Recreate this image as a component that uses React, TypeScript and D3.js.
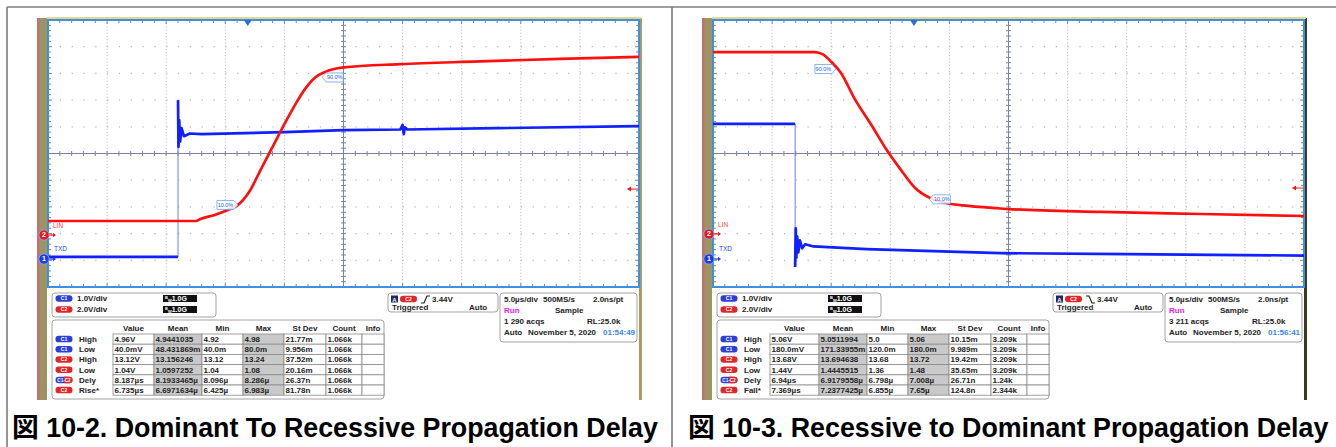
import React from "react";
import * as d3 from "d3";

const W = 1336;
const H = 447;

// ---------- data (time in µs, values in volts) ----------
const T_MAX = 50; // 10 div × 5.0 µs/div
const C1_VOLTS_PER_DIV = 1.0;
const C2_VOLTS_PER_DIV = 2.0;
const TRIG_LEVEL = 3.44;

const leftTxdLow: [number, number][] = [[0, 0.08], [11.0, 0.08]];
const leftTxdHigh: [number, number][] = [
  [11.0, 5.95], [11.04, 4.2], [11.1, 5.2], [11.18, 4.4], [11.3, 4.9], [11.5, 4.6],
  [12, 4.7], [13, 4.68], [20, 4.75], [25, 4.83], [29.8, 4.85], [30.0, 5.02],
  [30.1, 4.68], [30.2, 4.93], [30.4, 4.85], [38, 4.9], [50, 4.98],
];
const leftLin: [number, number][] = [
  [0, 1.05], [12.5, 1.05], [12.9, 1.2], [14.1, 1.5], [15.2, 1.87], [16.0, 2.2],
  [17.0, 3.2], [18.0, 4.9], [19.0, 6.6], [20.0, 8.3], [21.0, 9.9], [21.8, 11.0],
  [22.6, 11.8], [23.4, 12.2], [24.3, 12.45], [25, 12.55], [29.8, 12.8],
  [36.5, 13.0], [43.3, 13.2], [50, 13.35],
];

const rightTxdHigh: [number, number][] = [[0, 5.06], [6.95, 5.06]];
const rightTxdLow: [number, number][] = [
  [6.95, -0.3], [7.0, 1.15], [7.05, 0.05], [7.12, 0.85], [7.22, 0.25], [7.35, 0.7],
  [7.55, 0.4], [7.8, 0.55], [8.5, 0.47], [13, 0.37], [24.3, 0.22], [35, 0.18], [50, 0.13],
];
const rightLin: [number, number][] = [
  [0, 13.63], [8.6, 13.63], [9.3, 13.45], [10.0, 12.9], [10.8, 12.1], [12.0, 10.1],
  [13.4, 8.16], [14.7, 6.29], [15.9, 4.8], [17.1, 3.45], [18.2, 2.77], [19.7, 2.32],
  [21.6, 2.1], [25, 1.87], [32.8, 1.65], [41.3, 1.5], [50, 1.35],
];

// percent annotations: [t, volts, label, side]
const leftMarks: [number, number, string, "left" | "right"][] = [
  [16.07, 2.25, "10.0%", "left"],
  [23.2, 11.8, "90.0%", "right"],
];
const rightMarks: [number, number, string, "left" | "right"][] = [
  [10.4, 12.36, "90.0%", "left"],
  [18.3, 2.6, "10.0%", "right"],
];

const tableHeaders = ["Value", "Mean", "Min", "Max", "St Dev", "Count", "Info"];
const rowChannels = ["C1", "C1", "C2", "C2", "C1-C2", "C2"];
const leftRowNames = ["High", "Low", "High", "Low", "Dely", "Rise*"];
const rightRowNames = ["High", "Low", "High", "Low", "Dely", "Fall*"];
const leftValues = [
  ["4.96V", "4.9441035", "4.92", "4.98", "21.77m", "1.066k"],
  ["40.0mV", "48.431869m", "40.0m", "80.0m", "9.956m", "1.066k"],
  ["13.12V", "13.156246", "13.12", "13.24", "37.52m", "1.066k"],
  ["1.04V", "1.0597252", "1.04", "1.08", "20.16m", "1.066k"],
  ["8.187µs", "8.1933465µ", "8.096µ", "8.286µ", "26.37n", "1.066k"],
  ["6.735µs", "6.6971634µ", "6.425µ", "6.983µ", "81.78n", "1.066k"],
];
const rightValues = [
  ["5.06V", "5.0511994", "5.0", "5.06", "10.15m", "3.209k"],
  ["180.0mV", "171.33955m", "120.0m", "180.0m", "9.989m", "3.209k"],
  ["13.68V", "13.694638", "13.68", "13.72", "19.42m", "3.209k"],
  ["1.44V", "1.4445515", "1.36", "1.48", "35.65m", "3.209k"],
  ["6.94µs", "6.9179558µ", "6.798µ", "7.008µ", "26.71n", "1.24k"],
  ["7.369µs", "7.2377425µ", "6.855µ", "7.65µ", "124.8n", "2.344k"],
];
const leftTimebase = ["5.0µs/div", "500MS/s", "2.0ns/pt", "Run", "Sample", "1 290 acqs", "RL:25.0k", "Auto", "November 5, 2020", "01:54:49"];
const rightTimebase = ["5.0µs/div", "500MS/s", "2.0ns/pt", "Run", "Sample", "3 211 acqs", "RL:25.0k", "Auto", "November 5, 2020", "01:56:41"];
const channelScales = ["1.0V/div", "2.0V/div"];
const leftCaption = "図 10-2. Dominant To Recessive Propagation Delay";
const rightCaption = "図 10-3. Recessive to Dominant Propagation Delay";

// ---------- layout ----------
const GRID_TOP = 20;
const GRID_BOTTOM = 287;
const GRID_W = 591;
const DIVS = 10;
const FONT = "'Liberation Sans', Arial, 'Noto Sans CJK JP', sans-serif";
const RED = "#ff1010";
const BLUE = "#1020ff";
const GRIDC = "#7a82a6";

type ScopeProps = {
  x0: number;
  c1Gnd: number;
  c2Gnd: number;
  txdA: [number, number][];
  txdB: [number, number][];
  lin: [number, number][];
  marks: [number, number, string, "left" | "right"][];
  rowNames: string[];
  values: string[][];
  timebase: string[];
  valueColStart: number;
  rising: boolean;
  trigT: number;
  darkEdge: boolean;
};

function Pill({ x, y, ch }: { x: number; y: number; ch: string }) {
  const w = 17, h = 6.5;
  if (ch === "C1-C2") {
    return (
      <g>
        <rect x={x} y={y - h / 2} width={w} height={h} rx={3.2} fill="#2b3fd6" />
        <rect x={x + w / 2} y={y - h / 2} width={w / 2} height={h} rx={3.2} fill="#e02626" />
        <rect x={x + w / 2} y={y - h / 2} width={3} height={h} fill="#e02626" />
        <text x={x + w / 2} y={y + 1.8} fontSize={4.6} fill="#fff" textAnchor="middle" fontFamily={FONT} fontWeight="bold">C1-C2</text>
      </g>
    );
  }
  const fill = ch === "C1" ? "#2b3fd6" : "#e02626";
  return (
    <g>
      <rect x={x} y={y - h / 2} width={w} height={h} rx={3.2} fill={fill} />
      <text x={x + w / 2} y={y + 1.8} fontSize={5} fill="#fff" textAnchor="middle" fontFamily={FONT} fontWeight="bold">{ch}</text>
    </g>
  );
}

function Scope(p: ScopeProps) {
  const o = p.x0 - 48;
  const x1 = p.x0 + GRID_W;
  const xScale = d3.scaleLinear().domain([0, T_MAX]).range([p.x0, x1]);
  const divH = (GRID_BOTTOM - GRID_TOP) / DIVS;
  const divW = GRID_W / DIVS;
  const y1 = d3.scaleLinear().domain([0, C1_VOLTS_PER_DIV * DIVS]).range([p.c1Gnd, p.c1Gnd - divH * DIVS]);
  const y2 = d3.scaleLinear().domain([0, C2_VOLTS_PER_DIV * DIVS]).range([p.c2Gnd, p.c2Gnd - divH * DIVS]);
  const line1 = d3.line<[number, number]>().x((d) => xScale(d[0])).y((d) => y1(d[1]));
  const line2 = d3
    .line<[number, number]>()
    .x((d) => xScale(d[0]))
    .y((d) => y2(d[1]))
    .curve(d3.curveMonotoneX);

  const cx = p.x0 + GRID_W / 2;
  const cy = (GRID_TOP + GRID_BOTTOM) / 2;
  const minorX = d3.range(0, DIVS * 5 + 1).map((i) => p.x0 + (i * divW) / 5);
  const minorY = d3.range(0, DIVS * 5 + 1).map((i) => GRID_TOP + (i * divH) / 5);

  const stepT = p.txdA[p.txdA.length - 1][0];
  const stepFrom = p.txdA[p.txdA.length - 1][1];
  const stepTo = p.txdB[0][1];

  const trigY = y2(TRIG_LEVEL);
  const trigX = xScale(p.trigT);

  const colStarts = [p.valueColStart, 154, 202, 243, 284, 326, 362, 384].map((v, i) => (i === 0 ? v : v + o));
  const rowTop = 334;
  const rowH = 10.2;

  return (
    <g>
      <rect x={37 + o} y={18} width={10} height={382} fill="#9c9562" />
      <rect x={37 + o} y={18} width={2.5} height={382} fill="#c9687a" opacity={0.8} />
      <rect x={639 + o} y={18} width={3} height={382} fill={p.darkEdge ? "#3c3a22" : "#a49c66"} />
      <rect x={47 + o} y={17} width={594} height={2} fill="#e2d88c" />

      {d3.range(1, DIVS).filter((i) => i !== 5).map((i) => (
        <line key={"gv" + i} x1={p.x0 + i * divW} x2={p.x0 + i * divW} y1={GRID_TOP} y2={GRID_BOTTOM}
          stroke="#b4b6c4" strokeWidth={1} strokeDasharray="1,2.2" />
      ))}
      {d3.range(1, DIVS).filter((i) => i !== 5).map((i) => (
        <line key={"gh" + i} x1={p.x0} x2={x1} y1={GRID_TOP + i * divH} y2={GRID_TOP + i * divH}
          stroke="#b4b6c4" strokeWidth={1.2} strokeDasharray={`1.2,${divW / 5 - 1.2}`} />
      ))}
      <line x1={cx} x2={cx} y1={GRID_TOP} y2={GRID_BOTTOM} stroke={GRIDC} strokeWidth={1} />
      <line x1={p.x0} x2={x1} y1={cy} y2={cy} stroke={GRIDC} strokeWidth={1} />
      {minorX.map((x, i) => (
        <g key={"tx" + i}>
          <line x1={x} x2={x} y1={cy - 2.5} y2={cy + 2.5} stroke={GRIDC} strokeWidth={1} />
          <line x1={x} x2={x} y1={GRID_TOP} y2={GRID_TOP + (i % 5 === 0 ? 4 : 3)} stroke={GRIDC} strokeWidth={1} />
          <line x1={x} x2={x} y1={GRID_BOTTOM} y2={GRID_BOTTOM - (i % 5 === 0 ? 4 : 3)} stroke={GRIDC} strokeWidth={1} />
        </g>
      ))}
      {minorY.map((y, i) => (
        <g key={"ty" + i}>
          <line x1={cx - 2.5} x2={cx + 2.5} y1={y} y2={y} stroke={GRIDC} strokeWidth={1} />
          <line x1={p.x0} x2={p.x0 + (i % 5 === 0 ? 4 : 3)} y1={y} y2={y} stroke={GRIDC} strokeWidth={1} />
          <line x1={x1} x2={x1 - (i % 5 === 0 ? 4 : 3)} y1={y} y2={y} stroke={GRIDC} strokeWidth={1} />
        </g>
      ))}
      <rect x={p.x0} y={GRID_TOP} width={GRID_W} height={GRID_BOTTOM - GRID_TOP} fill="none" stroke="#3f8fe2" strokeWidth={2} />

      <path d={`M${trigX - 4},${GRID_TOP} L${trigX + 4},${GRID_TOP} L${trigX},${GRID_TOP + 6} Z`} fill="#2a6fe0" />

      <line x1={xScale(stepT)} x2={xScale(stepT)} y1={y1(stepFrom)} y2={y1(stepTo)} stroke="#6f7cff" strokeWidth={1} />
      <path d={line1(p.txdA) || ""} fill="none" stroke={BLUE} strokeWidth={2.7} strokeLinejoin="round" />
      <path d={line1(p.txdB) || ""} fill="none" stroke={BLUE} strokeWidth={2.7} strokeLinejoin="round" />
      <path d={line1(p.txdB.slice(0, 8)) || ""} fill="none" stroke={BLUE} strokeWidth={1} />
      <path d={line2(p.lin) || ""} fill="none" stroke={RED} strokeWidth={2.7} strokeLinejoin="round" />

      {p.marks.map(([t, v, label, side], i) => {
        const ax = xScale(t);
        const ay = y2(v);
        const bw = 21;
        const bh = 9;
        const d =
          side === "left"
            ? `M${ax},${ay} L${ax - 4},${ay - bh / 2} L${ax - bw},${ay - bh / 2} L${ax - bw},${ay + bh / 2} L${ax - 4},${ay + bh / 2} Z`
            : `M${ax},${ay} L${ax + 4},${ay - bh / 2} L${ax + bw},${ay - bh / 2} L${ax + bw},${ay + bh / 2} L${ax + 4},${ay + bh / 2} Z`;
        const tx = side === "left" ? ax - bw / 2 - 2 : ax + bw / 2 + 2;
        return (
          <g key={"m" + i}>
            <path d={d} fill="#ffffff" fillOpacity={0.85} stroke="#6aa0f0" strokeWidth={0.8} />
            <text x={tx} y={ay + 2} fontSize={5.5} fill="#2a64e0" textAnchor="middle" fontFamily={FONT}>{label}</text>
          </g>
        );
      })}

      <line x1={x1 - 10} x2={x1 - 1} y1={trigY} y2={trigY} stroke={RED} strokeWidth={1} />
      <path d={`M${x1 - 12},${trigY} L${x1 - 8},${trigY - 2.5} L${x1 - 8},${trigY + 2.5} Z`} fill={RED} />

      <text x={p.x0 + 5} y={p.c2Gnd - 7} fontSize={6.5} fill="#ff3a3a" fontFamily={FONT}>LIN</text>
      <text x={p.x0 + 6} y={p.c1Gnd - 8} fontSize={6.5} fill="#3046d8" fontFamily={FONT}>TXD</text>
      {[
        { y: p.c2Gnd, fill: "#e51d1d", n: "2" },
        { y: p.c1Gnd, fill: "#1f3ee0", n: "1" },
      ].map((m) => (
        <g key={"g" + m.n}>
          <line x1={p.x0 - 2} x2={p.x0 + 7} y1={m.y} y2={m.y} stroke={m.fill} strokeWidth={1.2} />
          <path d={`M${p.x0 + 8},${m.y} L${p.x0 + 5},${m.y - 2.2} L${p.x0 + 5},${m.y + 2.2} Z`} fill={m.fill} />
          <circle cx={p.x0 - 4} cy={m.y} r={5.2} fill={m.fill} stroke="#8fb0ff" strokeWidth={0.8} />
          <text x={p.x0 - 4} y={m.y + 2.4} fontSize={7} fill="#fff" textAnchor="middle" fontFamily={FONT} fontWeight="bold">{m.n}</text>
        </g>
      ))}

      <rect x={52 + o} y={293} width={164} height={24} rx={3} fill="#fff" stroke="#a2a2a2" strokeWidth={1} />
      {channelScales.map((s, i) => {
        const y = 298.5 + i * 11;
        return (
          <g key={"cs" + i}>
            <Pill x={55.5 + o} y={y} ch={i === 0 ? "C1" : "C2"} />
            <text x={77 + o} y={y + 2.8} fontSize={8} fontWeight="bold" fill="#222" fontFamily={FONT}>{s}</text>
            <rect x={163 + o} y={y - 3.5} width={34} height={7} fill="#111" />
            <text x={165 + o} y={y + 2.6} fontSize={7} fill="#fff" fontFamily={FONT} fontWeight="bold">
              <tspan fontSize={4} dy={-2}>B</tspan>
              <tspan fontSize={4} dy={2.5}>W</tspan>
              <tspan dy={-0.5}>1.0G</tspan>
            </text>
          </g>
        );
      })}

      <rect x={52 + o} y={320} width={332} height={79} rx={3} fill="#fff" stroke="#a2a2a2" strokeWidth={1} />
      {tableHeaders.map((h, i) => (
        <text key={"h" + i} x={(colStarts[i] + colStarts[i + 1]) / 2} y={331} fontSize={8} fontWeight="bold"
          fill="#222" textAnchor="middle" fontFamily={FONT}>{h}</text>
      ))}
      {p.rowNames.map((name, r) => {
        const yt = rowTop + r * rowH;
        return (
          <g key={"r" + r}>
            <Pill x={55.5 + o} y={yt + rowH / 2} ch={rowChannels[r]} />
            <text x={79 + o} y={yt + rowH / 2 + 2.9} fontSize={8} fontWeight="bold" fill="#222" fontFamily={FONT}>{name}</text>
            {d3.range(7).map((c) => (
              <g key={"c" + c}>
                <rect x={colStarts[c]} y={yt} width={colStarts[c + 1] - colStarts[c]} height={rowH}
                  fill={c === 1 || c === 3 ? "#c9c9c9" : "#fff"} stroke="#8a8a8a" strokeWidth={0.8} />
                {c < 6 && (
                  <text x={colStarts[c] + 1.5} y={yt + rowH / 2 + 2.9} fontSize={8} fontWeight="bold" fill="#222" fontFamily={FONT}>
                    {p.values[r][c]}
                  </text>
                )}
              </g>
            ))}
          </g>
        );
      })}

      <rect x={388 + o} y={293} width={110} height={19} rx={3} fill="#fff" stroke="#a2a2a2" strokeWidth={1} />
      <rect x={391 + o} y={295.5} width={7} height={7} fill="#1a2a66" />
      <text x={394.5 + o} y={301.5} fontSize={6} fill="#fff" textAnchor="middle" fontFamily={FONT} fontWeight="bold">A</text>
      <Pill x={400 + o} y={299} ch="C2" />
      <path
        d={p.rising
          ? `M${421 + o},${303} L${424 + o},${303} L${427 + o},${296} L${430 + o},${296}`
          : `M${421 + o},${296} L${424 + o},${296} L${427 + o},${303} L${430 + o},${303}`}
        fill="none" stroke="#222" strokeWidth={1.2} />
      <text x={432 + o} y={302} fontSize={8} fontWeight="bold" fill="#222" fontFamily={FONT}>{TRIG_LEVEL.toFixed(2)}V</text>
      <text x={392 + o} y={310} fontSize={8} fontWeight="bold" fill="#222" fontFamily={FONT}>Triggered</text>
      <text x={469 + o} y={310} fontSize={8} fontWeight="bold" fill="#222" fontFamily={FONT}>Auto</text>

      <rect x={500 + o} y={293} width={137} height={49} rx={3} fill="#fff" stroke="#a2a2a2" strokeWidth={1} />
      <text x={504 + o} y={302} fontSize={8} fontWeight="bold" fill="#222" fontFamily={FONT}>{p.timebase[0]}</text>
      <text x={543 + o} y={302} fontSize={8} fontWeight="bold" fill="#222" fontFamily={FONT}>{p.timebase[1]}</text>
      <text x={593 + o} y={302} fontSize={8} fontWeight="bold" fill="#222" fontFamily={FONT}>{p.timebase[2]}</text>
      <text x={504 + o} y={313} fontSize={8} fontWeight="bold" fill="#f020f0" fontFamily={FONT}>{p.timebase[3]}</text>
      <text x={555 + o} y={313} fontSize={8} fontWeight="bold" fill="#222" fontFamily={FONT}>{p.timebase[4]}</text>
      <text x={504 + o} y={324} fontSize={8} fontWeight="bold" fill="#222" fontFamily={FONT}>{p.timebase[5]}</text>
      <text x={587 + o} y={324} fontSize={8} fontWeight="bold" fill="#222" fontFamily={FONT}>{p.timebase[6]}</text>
      <text x={504 + o} y={335} fontSize={8} fontWeight="bold" fill="#222" fontFamily={FONT}>{p.timebase[7]}</text>
      <text x={528 + o} y={335} fontSize={8} fontWeight="bold" fill="#222" fontFamily={FONT}>{p.timebase[8]}</text>
      <text x={603 + o} y={335} fontSize={8} fontWeight="bold" fill="#3a86f0" fontFamily={FONT}>{p.timebase[9]}</text>
    </g>
  );
}

export default function App() {
  return (
    <svg width={W} height={H} viewBox={`0 0 ${W} ${H}`}
      style={{ position: "absolute", left: 0, top: 0, background: "#fff" }}>
      <rect x={0} y={0} width={W} height={H} fill="#fff" />
      <line x1={7} x2={W} y1={7} y2={7} stroke="#7c7c7c" strokeWidth={1.6} />
      <line x1={7} x2={7} y1={7} y2={H} stroke="#7c7c7c" strokeWidth={1.6} />
      <line x1={672} x2={672} y1={7} y2={H} stroke="#7c7c7c" strokeWidth={1.6} />

      <Scope x0={48} c1Gnd={259} c2Gnd={235} txdA={leftTxdLow} txdB={leftTxdHigh} lin={leftLin}
        marks={leftMarks} rowNames={leftRowNames} values={leftValues} timebase={leftTimebase}
        valueColStart={113} rising={true} trigT={16.9} darkEdge={false} />
      <Scope x0={713} c1Gnd={259} c2Gnd={234} txdA={rightTxdHigh} txdB={rightTxdLow} lin={rightLin}
        marks={rightMarks} rowNames={rightRowNames} values={rightValues} timebase={rightTimebase}
        valueColStart={770} rising={false} trigT={17.0} darkEdge={true} />

      <text x={12} y={437} fontSize={26.8} fontWeight="bold" fill="#000" fontFamily={FONT}>{leftCaption}</text>
      <text x={688} y={437} fontSize={26.8} fontWeight="bold" fill="#000" fontFamily={FONT}>{rightCaption}</text>
    </svg>
  );
}
